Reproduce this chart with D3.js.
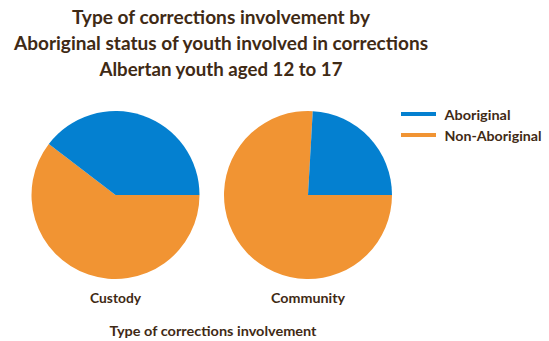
<!DOCTYPE html>
<html>
<head>
<meta charset="utf-8">
<script src="https://cdn.jsdelivr.net/npm/d3@7"></script>
<style>
  html, body { margin: 0; padding: 0; background: #fff; }
  svg text { font-family: Lato, "Open Sans", sans-serif; font-weight: bold; fill: #3f2a15; }
</style>
</head>
<body>
<svg id="chart" width="549" height="341"></svg>
<script>
// Share of youth by Aboriginal status, per type of corrections involvement (%)
const categories = ["Custody", "Community"];
const seriesNames = ["Aboriginal", "Non-Aboriginal"];
const aboriginal = [39.6, 24.1];
const nonAboriginal = [60.4, 75.9];
const titleLines = [
  "Type of corrections involvement by",
  "Aboriginal status of youth involved in corrections",
  "Albertan youth aged 12 to 17"
];
const axisTitle = "Type of corrections involvement";

const colors = d3.scaleOrdinal().domain(seriesNames).range(["#0480d0", "#f19433"]);

const svg = d3.select("#chart");

// Title
const titleWidths = [298, 414, 243];
svg.append("g").selectAll("text").data(titleLines).join("text")
  .attr("x", 221)
  .attr("y", (d, i) => 24 + i * 26)
  .attr("text-anchor", "middle")
  .attr("font-size", 19.5)
  .attr("textLength", (d, i) => titleWidths[i])
  .attr("lengthAdjust", "spacingAndGlyphs")
  .text(d => d);

// Pies placed along a band scale of categories
const x = d3.scalePoint().domain(categories).range([115.5, 308]);
const radius = 84;
const cy = 195;

// Non-Aboriginal first, starting at 3 o'clock and sweeping clockwise
const pie = d3.pie().sort(null).startAngle(Math.PI / 2).endAngle(Math.PI / 2 + 2 * Math.PI)
  .value(d => d.value);
const arc = d3.arc().innerRadius(0).outerRadius(radius);

categories.forEach((cat, i) => {
  const data = [
    { name: "Non-Aboriginal", value: nonAboriginal[i] },
    { name: "Aboriginal", value: aboriginal[i] }
  ];
  const g = svg.append("g").attr("transform", `translate(${x(cat)},${cy})`);
  g.selectAll("path").data(pie(data)).join("path")
    .attr("d", arc)
    .attr("fill", d => colors(d.data.name));
});

// Category labels
const catWidths = [51, 74];
svg.append("g").selectAll("text").data(categories).join("text")
  .attr("x", d => x(d))
  .attr("y", 303)
  .attr("text-anchor", "middle")
  .attr("font-size", 14)
  .attr("textLength", (d, i) => catWidths[i])
  .attr("lengthAdjust", "spacingAndGlyphs")
  .text(d => d);

// Axis title
svg.append("text")
  .attr("x", 213)
  .attr("y", 336)
  .attr("text-anchor", "middle")
  .attr("font-size", 14)
  .attr("textLength", 207)
  .attr("lengthAdjust", "spacingAndGlyphs")
  .text(axisTitle);

// Legend
const legendWidths = [66, 97];
const legend = svg.append("g").selectAll("g").data(seriesNames).join("g")
  .attr("transform", (d, i) => `translate(401,${114 + i * 21})`);
legend.append("line")
  .attr("x1", 0).attr("x2", 35).attr("y1", 0).attr("y2", 0)
  .attr("stroke", d => colors(d))
  .attr("stroke-width", 4);
legend.append("text")
  .attr("x", 43.5)
  .attr("y", 5.5)
  .attr("font-size", 14)
  .attr("textLength", (d, i) => legendWidths[i])
  .attr("lengthAdjust", "spacingAndGlyphs")
  .text(d => d);
</script>
</body>
</html>
